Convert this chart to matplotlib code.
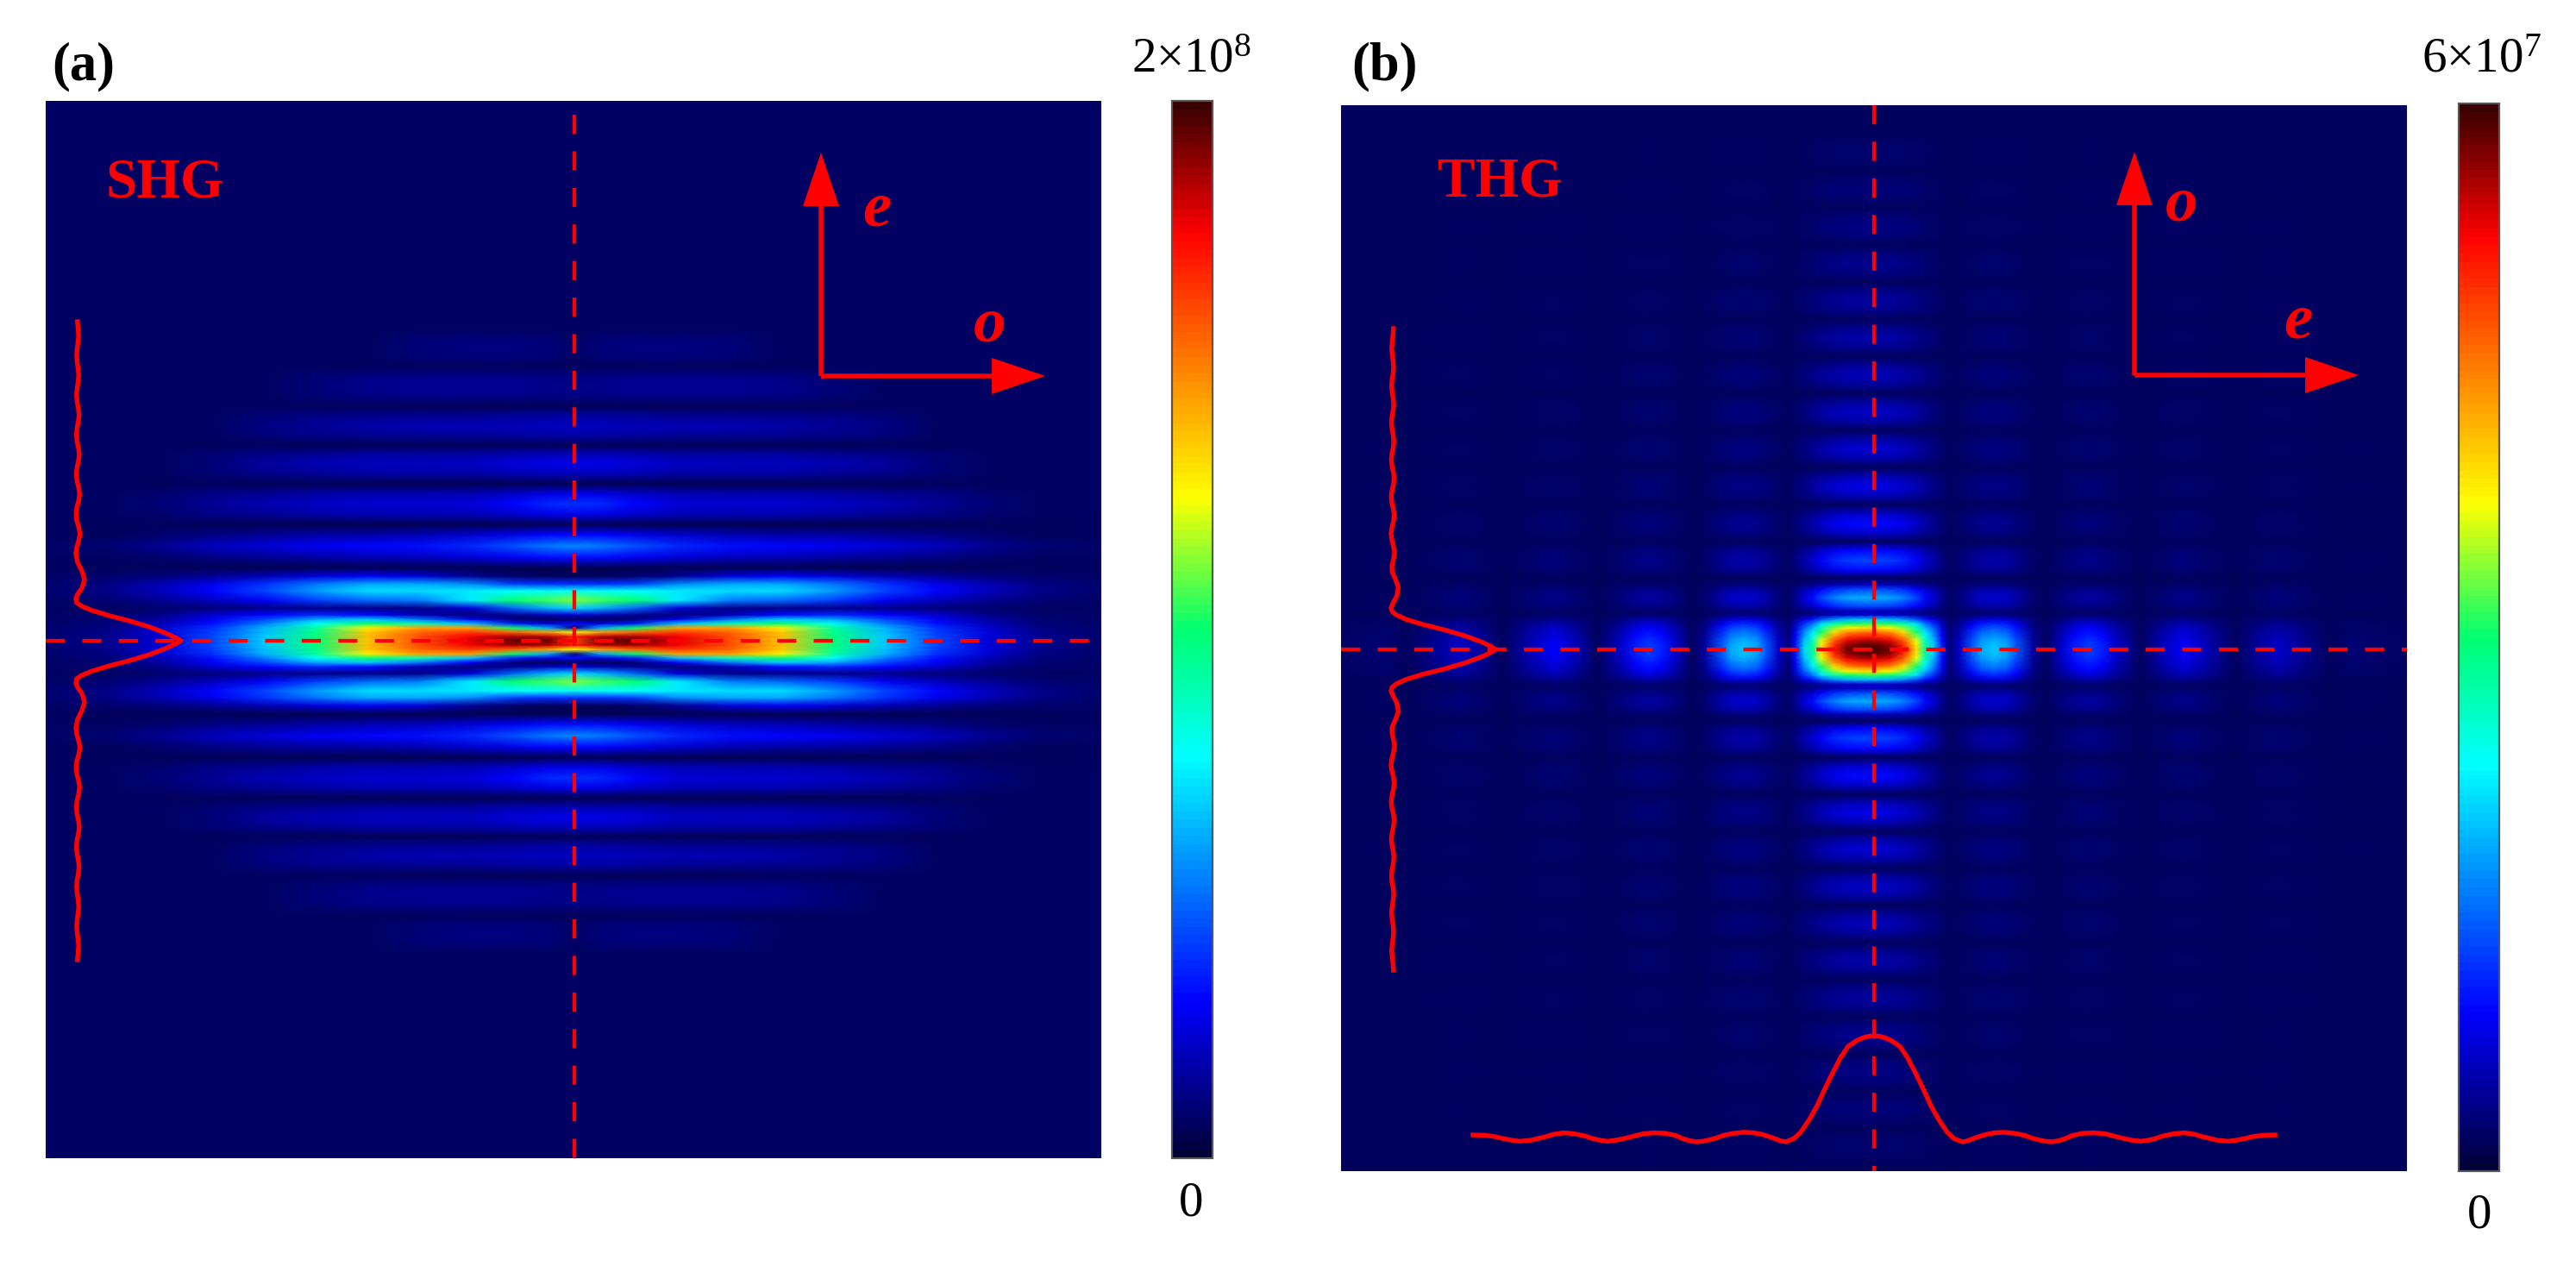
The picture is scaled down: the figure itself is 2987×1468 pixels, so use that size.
import matplotlib
matplotlib.use('Agg')
import matplotlib.pyplot as plt
from matplotlib.cm import ScalarMappable
from matplotlib.colors import LinearSegmentedColormap, Normalize
import numpy as np

W, H = 2987, 1468

plt.rcParams['font.family'] = ['Liberation Serif', 'DejaVu Serif']
plt.rcParams['mathtext.fontset'] = 'custom'
plt.rcParams['mathtext.rm'] = 'Liberation Serif'

# Intensities are read as a fraction of the colour bar.
# SHG map, upper right quarter, distances in pixels from the centre.
shg_x = [0, 30, 70, 120, 180, 240, 300, 360, 420, 480, 540, 640]
shg_y = [0, 5, 10, 15, 20, 25, 30, 38, 47, 58, 66, 75, 85, 97, 110, 123, 135,
         147, 159, 170, 182, 194, 205, 216, 227, 238, 249, 260, 272, 284, 295,
         306, 318, 329, 340, 351, 362, 640]
shg_map = [
    [.80, .97, .98, .90, .80, .68, .49, .33, .21, .12, .065, .035],
    [.85, .92, .93, .88, .80, .69, .49, .33, .21, .12, .065, .035],
    [.62, .72, .78, .82, .78, .68, .48, .32, .20, .12, .06, .035],
    [.05, .30, .50, .72, .72, .64, .46, .31, .19, .11, .055, .035],
    [.16, .12, .17, .32, .44, .50, .39, .26, .16, .09, .05, .035],
    [.03, .03, .05, .14, .25, .33, .30, .21, .14, .08, .045, .035],
    [.12, .10, .07, .05, .09, .16, .18, .15, .11, .06, .04, .035],
    [.34, .31, .24, .12, .06, .06, .06, .06, .05, .04, .035, .035],
    [.56, .53, .50, .36, .26, .24, .20, .14, .10, .07, .045, .035],
    [.39, .38, .38, .36, .35, .35, .29, .21, .15, .10, .06, .035],
    [.19, .19, .20, .27, .30, .30, .25, .19, .13, .09, .055, .035],
    [.03, .03, .04, .07, .12, .14, .12, .09, .07, .05, .04, .035],
    [.02, .02, .02, .02, .02, .02, .02, .02, .025, .03, .03, .035],
    [.16, .16, .14, .12, .10, .09, .08, .07, .055, .04, .035, .035],
    [.27, .26, .22, .18, .16, .15, .14, .12, .10, .07, .045, .035],
    [.15, .15, .13, .11, .09, .08, .08, .07, .055, .04, .03, .035],
    [.02, .02, .02, .02, .02, .02, .02, .025, .025, .03, .03, .035],
    [.135, .13, .11, .095, .09, .09, .085, .07, .06, .04, .035, .035],
    [.19, .18, .15, .12, .11, .11, .105, .09, .07, .05, .035, .035],
    [.135, .13, .11, .095, .09, .09, .085, .07, .06, .04, .035, .035],
    [.02, .02, .02, .02, .02, .02, .025, .025, .03, .03, .035, .035],
    [.095, .095, .09, .08, .08, .08, .07, .06, .045, .035, .035, .035],
    [.13, .13, .12, .105, .10, .10, .09, .075, .05, .035, .035, .035],
    [.095, .095, .09, .08, .08, .08, .07, .06, .045, .035, .035, .035],
    [.025, .025, .025, .025, .025, .025, .025, .03, .03, .035, .035, .035],
    [.08, .08, .075, .07, .07, .065, .06, .05, .035, .035, .035, .035],
    [.10, .10, .095, .09, .09, .085, .07, .055, .035, .035, .035, .035],
    [.08, .08, .075, .07, .07, .065, .06, .05, .035, .035, .035, .035],
    [.025, .025, .025, .025, .025, .03, .03, .035, .035, .035, .035, .035],
    [.055, .055, .06, .06, .06, .055, .045, .035, .035, .035, .035, .035],
    [.06, .065, .07, .07, .07, .065, .05, .035, .035, .035, .035, .035],
    [.055, .055, .06, .06, .06, .055, .045, .035, .035, .035, .035, .035],
    [.03, .03, .03, .03, .03, .03, .035, .035, .035, .035, .035, .035],
    [.035, .045, .05, .05, .045, .035, .035, .035, .035, .035, .035, .035],
    [.04, .05, .055, .055, .05, .035, .035, .035, .035, .035, .035, .035],
    [.035, .045, .05, .05, .045, .035, .035, .035, .035, .035, .035, .035],
    [.035, .035, .035, .035, .035, .035, .035, .035, .035, .035, .035, .035],
    [.035, .035, .035, .035, .035, .035, .035, .035, .035, .035, .035, .035],
]

# THG map factors into a vertical and a horizontal fringe profile.
thg_y = [0, 5, 10, 15, 20, 25, 30, 35, 40, 45, 50, 60, 70, 75, 83, 92, 103, 115,
         125, 135, 146, 157, 168, 178, 189, 200, 211, 221, 232, 243, 254, 264, 275,
         286, 297, 307, 318, 329, 340, 350, 361, 372, 383, 393, 404, 415, 426, 436,
         447, 458, 469, 479, 490, 501, 512, 522, 533, 544, 555, 565, 576, 587, 598, 650]
thg_rows = [.97, .95, .90, .82, .74, .63, .49, .29, .08, .07, .18, .28, .18, .07,
            .0, .12, .18, .12, .0, .08, .125, .08, .0, .065, .10, .065, .0, .055, .085,
            .055, .0, .05, .075, .05, .0, .042, .065, .042, .0, .036, .055, .036, .0,
            .03, .045, .03, .0, .023, .035, .023, .0, .018, .028, .018, .0, .013, .02,
            .013, .0, .008, .012, .008, .0, .0]
thg_x = [0, 10, 25, 40, 55, 65, 75, 85, 93, 105, 120, 130, 145, 160, 170, 190, 205,
         225, 240, 255, 270, 285, 315, 340, 365, 395, 425, 450, 475, 505, 535, 560, 640]
thg_cols = [1.0, .99, .96, .85, .65, .45, .32, .14, .02, .08, .21, .28, .31, .28, .21,
            .05, .0, .09, .15, .18, .15, .09, .0, .07, .12, .06, .0, .045, .08, .035,
            .0, .015, .0]

# Fringe cuts drawn over the maps, normalised to their central peak.
shg_cut_y = [0, 4, 9, 16, 23, 29, 35, 40, 44, 49, 54, 61, 71, 81, 91, 101, 109, 116,
             124, 132, 139, 147, 155, 162, 170, 178, 185, 193, 201, 208, 216, 224,
             231, 239, 247, 254, 262, 270, 277, 285, 293, 300, 308, 316, 323, 331,
             339, 346, 353, 362, 370]
shg_cut = [1, .94, .85, .70, .51, .32, .156, .057, .008, 0, .016, .057, .082, .057,
           .016, 0, .009, .027, .038, .027, .009, .002, .009, .026, .035, .026, .011,
           .004, .011, .024, .032, .024, .011, .005, .011, .023, .03, .023, .012, .006,
           .012, .021, .027, .021, .012, .008, .012, .02, .026, .021, .014]
thg_vcut_y = [0, 4, 9, 16, 23, 29, 35, 40, 44, 48, 54, 62, 72, 82, 90, 97, 105, 112,
              119, 127, 134, 141, 148, 155, 162, 170, 177, 184, 191, 198, 205, 213,
              220, 227, 234, 241, 248, 256, 263, 270, 277, 284, 291, 299, 306, 313,
              320, 327, 334, 342, 349, 356, 364, 372]
thg_vcut = [1, .95, .86, .70, .50, .30, .14, .05, .01, 0, .02, .055, .07, .04, .01,
            .009, .024, .034, .024, .008, .0, .008, .023, .03, .023, .008, .002, .009,
            .023, .029, .023, .009, .003, .009, .021, .027, .021, .009, .004, .009, .02,
            .026, .02, .01, .005, .01, .02, .024, .02, .011, .006, .011, .018, .023]
thg_hcut_x = [0, 6, 12, 20, 30, 39, 48, 57, 66, 75, 85, 93, 102, 108, 115, 122, 130,
              140, 151, 163, 175, 183, 190, 198, 206, 214, 222, 230, 242, 255, 268,
              278, 285, 297, 309, 318, 326, 335, 347, 360, 372, 380, 385, 398, 411,
              420, 430, 440, 452, 465]
thg_hcut = [1, .995, .983, .955, .90, .79, .65, .50, .34, .21, .09, .03, 0, .008, .03,
            .05, .07, .085, .09, .08, .06, .035, .02, .006, 0, .01, .03, .06, .08, .085,
            .075, .055, .04, .018, .005, .015, .03, .055, .075, .085, .07, .05, .04,
            .015, .005, .015, .03, .05, .062, .065]

cbar_stops = [0, .146, .379, .50, .626, .877, 1]
cbar_colors = ['#000038', '#0000ff', '#00ffff', '#00ff70', '#ffff00', '#ff0000', '#380000']
cbar_labels = [r'$\mathrm{2{\times}10^{8}}$', r'$\mathrm{6{\times}10^{7}}$']

jet = LinearSegmentedColormap.from_list('fringe', list(zip(cbar_stops, cbar_colors)), N=256)
norm = Normalize(0, 1)


def mirror(v):
    v = np.asarray(v, dtype=float)
    return np.r_[-v[:0:-1], v]


def unfold(z):
    z = np.asarray(z, dtype=float)
    z = np.hstack([z[:, :0:-1], z])
    return np.vstack([z[:0:-1], z])


def unfold_1d(v):
    v = np.asarray(v, dtype=float)
    return np.r_[v[:0:-1], v]


def panel(x0, y0, x1, y1, cx, cy):
    # pixel box of the reference, data units are pixels from the centre
    ax = fig.add_axes([x0 / W, 1 - y1 / H, (x1 - x0) / W, (y1 - y0) / H])
    ax.set_xlim(x0 - cx, x1 - cx)
    ax.set_ylim(cy - y1, cy - y0)
    ax.axis('off')
    return ax


def colorbar(x0, y0, x1, y1):
    cax = fig.add_axes([x0 / W, 1 - y1 / H, (x1 - x0) / W, (y1 - y0) / H])
    cb = fig.colorbar(ScalarMappable(norm, jet.resampled(128)), cax=cax, ticks=[])
    cb.outline.set_edgecolor('#555555')
    cb.outline.set_linewidth(1.6)
    return cb


def dashes(ax, x0, x1, y0, y1):
    ax.plot([x0, x1], [y0, y1], color='#ff0000', lw=3.1,
            linestyle=(0, (5.15, 4.7)), dash_capstyle='butt', zorder=4)


def axes_mark(ax, x, y, up, right):
    ax.arrow(x, y, 0, 259, width=5.5, head_width=42, head_length=62,
             length_includes_head=True, color='#ff0000', lw=0, zorder=5)
    ax.arrow(x, y, 260, 0, width=5.5, head_width=42, head_length=62,
             length_includes_head=True, color='#ff0000', lw=0, zorder=5)
    ax.text(up[0], up[1], up[2], color='#ff0000', fontsize=54, fontweight='bold',
            fontstyle='italic', ha='center', va='center', zorder=5)
    ax.text(right[0], right[1], right[2], color='#ff0000', fontsize=54, fontweight='bold',
            fontstyle='italic', ha='center', va='center', zorder=5)


fig = plt.figure(figsize=(W / 100, H / 100), dpi=100)

# panel (a)
ax = panel(53, 117, 1277, 1343, 666, 743)
ax.pcolormesh(mirror(shg_x), mirror(shg_y), unfold(shg_map), shading='gouraud',
              cmap=jet, norm=norm)
dashes(ax, -613, 601, 0, 0)
dashes(ax, 0, 0, 610, -600)
ax.plot(88 - 666 + 122 * unfold_1d(shg_cut), mirror(shg_cut_y), color='#ff0000', lw=3.9, zorder=5)
axes_mark(ax, 286, 307, (351, 500, 'e'), (482, 366, 'o'))
ax.text(123 - 666, 743 - 228, 'SHG', color='#ff0000', fontsize=47, fontweight='bold',
        ha='left', va='baseline', zorder=5)
colorbar(1359, 117, 1406, 1343)
fig.text(60 / W, 1 - 92 / H, '(a)', fontsize=45, fontweight='bold', ha='left', va='baseline')
fig.text(1381 / W, 1 - 83 / H, cbar_labels[0], fontsize=41, ha='center', va='baseline')
fig.text(1381 / W, 1 - 1396 / H, '0', fontsize=41, ha='center', va='center')

# panel (b)
ax = panel(1555, 122, 2791, 1358, 2173, 753)
thg_map = .03 + np.outer(unfold_1d(thg_rows), unfold_1d(thg_cols))
ax.pcolormesh(mirror(thg_x) - 6, mirror(thg_y), thg_map, shading='gouraud',
              cmap=jet, norm=norm)
dashes(ax, -618, 618, 0, 0)
dashes(ax, 0, 0, 631, -605)
ax.plot(1613 - 2173 + 121 * unfold_1d(thg_vcut), mirror(thg_vcut_y), color='#ff0000', lw=3.9, zorder=5)
ax.plot(mirror(thg_hcut_x), -571 + 123 * unfold_1d(thg_hcut), color='#ff0000', lw=3.9, zorder=5)
axes_mark(ax, 302, 318, (357, 515, 'o'), (492, 379, 'e'))
ax.text(1667 - 2173, 753 - 228, 'THG', color='#ff0000', fontsize=47, fontweight='bold',
        ha='left', va='baseline', zorder=5)
colorbar(2851, 120, 2898, 1358)
fig.text(1567 / W, 1 - 92 / H, '(b)', fontsize=45, fontweight='bold', ha='left', va='baseline')
fig.text(2877 / W, 1 - 83 / H, cbar_labels[1], fontsize=41, ha='center', va='baseline')
fig.text(2875 / W, 1 - 1410 / H, '0', fontsize=41, ha='center', va='center')

fig.savefig('out.png', dpi=100)
